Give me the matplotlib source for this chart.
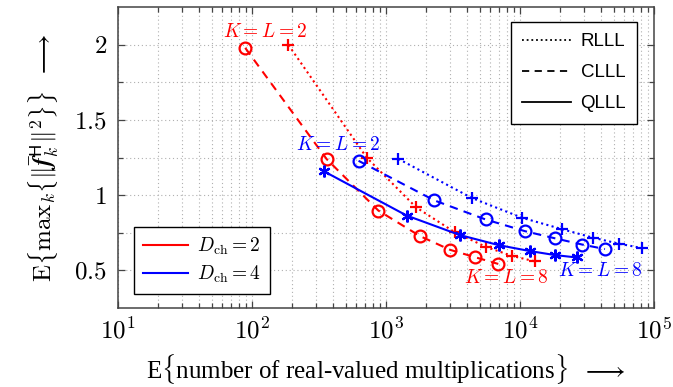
import numpy as np
import matplotlib.pyplot as plt
from matplotlib.lines import Line2D

plt.rcParams["mathtext.fontset"] = "cm"
plt.rcParams["font.family"] = ["Liberation Serif", "DejaVu Serif"]

# D_ch = 2 (red)
red_clll_x = [89, 361, 877, 1795, 3006, 4614, 6887]
red_clll_y = [1.98, 1.24, 0.898, 0.728, 0.637, 0.588, 0.543]
red_rlll_x = [187, 718, 1675, 3273, 5623, 8750, 12940]
red_rlll_y = [2.0, 1.25, 0.92, 0.753, 0.655, 0.596, 0.56]

# D_ch = 4 (blue)
blue_clll_x = [624, 2291, 5530, 10890, 18330, 29100, 43050]
blue_clll_y = [1.229, 0.966, 0.839, 0.761, 0.713, 0.672, 0.642]
blue_rlll_x = [1236, 4365, 10380, 20460, 34900, 54580, 80910]
blue_rlll_y = [1.242, 0.982, 0.85, 0.775, 0.718, 0.678, 0.649]
blue_qlll_x = [343, 1426, 3565, 6950, 11800, 18240, 26500]
blue_qlll_y = [1.16, 0.865, 0.735, 0.668, 0.629, 0.602, 0.586]

xticks = [1e1, 1e2, 1e3, 1e4, 1e5]
xtick_labels = [r"$10^{1}$", r"$10^{2}$", r"$10^{3}$", r"$10^{4}$", r"$10^{5}$"]
yticks = [0.5, 1.0, 1.5, 2.0]
ytick_labels = [r"$0.5$", r"$1$", r"$1.5$", r"$2$"]

RED = "#ff0000"
BLUE = "#0000ff"
dashed = (0, (4, 3))
dotted = (0, (1, 1.6))
star = (6, 2, 0)

fig = plt.figure(figsize=(6.73, 3.87), dpi=100)
ax = fig.add_axes([118 / 673, 1 - 308 / 387, 536 / 673, 300.7 / 387])

mk = dict(markersize=8.5, markeredgewidth=1.6, markerfacecolor="none", linewidth=1.5)
ax.plot(red_rlll_x, red_rlll_y, color=RED, linestyle=dotted, marker="+", **mk)
ax.plot(red_clll_x, red_clll_y, color=RED, linestyle=dashed, marker="o", **mk)
ax.plot(blue_rlll_x, blue_rlll_y, color=BLUE, linestyle=dotted, marker="+", **mk)
ax.plot(blue_clll_x, blue_clll_y, color=BLUE, linestyle=dashed, marker="o", **mk)
ax.plot(blue_qlll_x, blue_qlll_y, color=BLUE, linestyle="-", marker=star, **mk)

ax.set_xscale("log")
ax.set_xlim(10, 1e5)
ax.set_ylim(0.25, 2.25)
ax.set_xticks(xticks, labels=xtick_labels)
ax.set_yticks(yticks, labels=ytick_labels)
ax.set_yticks([0.75, 1.25, 1.75], minor=True)
ax.tick_params(which="both", direction="in", top=True, right=True,
               color="#444444", width=0.9)
ax.tick_params(which="major", length=5, labelsize=18, pad=8)
ax.tick_params(which="minor", length=3.5)
ax.tick_params(axis="x", which="major", pad=7)
ax.grid(True, which="both", linestyle=(0, (1, 2.5)), color="#b0b0b0", linewidth=0.8)
for s in ax.spines.values():
    s.set_color("#444444")
    s.set_linewidth(1.1)

ax.text(125, 2.083, r"$K=L=2$", color=RED, fontsize=14, ha="center", va="center")
ax.text(438, 1.334, r"$K=L=2$", color=BLUE, fontsize=14, ha="center", va="center")
ax.text(7960, 0.447, r"$K=L=8$", color=RED, fontsize=14, ha="center", va="center")
ax.text(39540, 0.497, r"$K=L=8$", color=BLUE, fontsize=14, ha="center", va="center")

ax.set_xlabel(r"E$\{$number of real-valued multiplications$\}$  $\longrightarrow$",
              fontsize=18, labelpad=6)
ax.set_ylabel(r"$\mathrm{E}\left\{\mathrm{max}_k\left\{\|\bar{\boldsymbol{f}}_k^{\mathsf{H}}\|^2\right\}\right\}$  $\longrightarrow$",
              fontsize=18, labelpad=10)

h1 = [Line2D([], [], color=RED, linewidth=1.5), Line2D([], [], color=BLUE, linewidth=1.5)]
leg1 = ax.legend(h1, [r"$D_{\mathrm{ch}}=2$", r"$D_{\mathrm{ch}}=4$"], loc="lower left",
                 bbox_to_anchor=(0.0304, 0.0466), borderaxespad=0, fancybox=False,
                 edgecolor="black", framealpha=1, fontsize=14, handlelength=2.3,
                 handletextpad=0.5, labelspacing=0.35, borderpad=0.45)
leg1.get_frame().set_linewidth(1.0)
ax.add_artist(leg1)

h2 = [Line2D([], [], color="black", linestyle=dotted, linewidth=1.3),
      Line2D([], [], color="black", linestyle=dashed, linewidth=1.3),
      Line2D([], [], color="black", linestyle="-", linewidth=1.3)]
leg2 = ax.legend(h2, ["RLLL", "CLLL", "QLLL"], loc="upper right",
                 bbox_to_anchor=(0.969, 0.952), borderaxespad=0, fancybox=False,
                 edgecolor="black", framealpha=1, handlelength=2.6, handletextpad=0.5,
                 labelspacing=0.75, borderpad=0.6,
                 prop={"family": "Liberation Sans", "size": 13.5})
leg2.get_frame().set_linewidth(1.0)

fig.savefig("out.png", dpi=100)
